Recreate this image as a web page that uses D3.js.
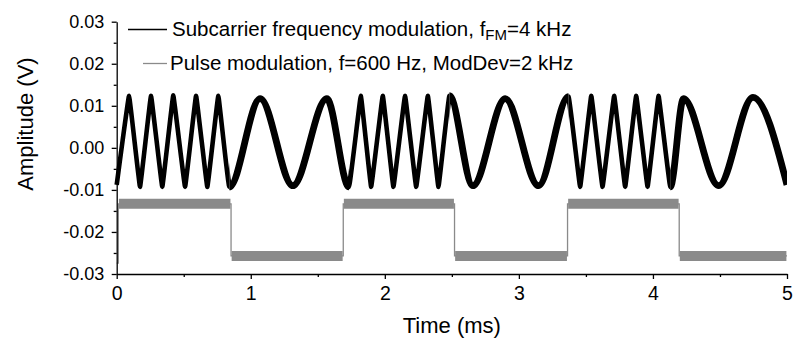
<!DOCTYPE html>
<html>
<head>
<meta charset="utf-8">
<script src="https://cdn.jsdelivr.net/npm/d3@7"></script>
<style>
  body { margin: 0; background: #fff; }
  text { font-family: "Liberation Sans", Arial, sans-serif; fill: #000; }
  .axis path, .axis line { stroke: #000; stroke-width: 1.3; }
  .axis text { font-family: "Liberation Sans", Arial, sans-serif; fill: #000; }
</style>
</head>
<body>
<svg id="chart"></svg>
<script>
// extrema of the FM subcarrier trace (time in ms, amplitude in V)
const fmTime = [0, 0.092, 0.174, 0.256, 0.340, 0.422, 0.510, 0.592, 0.676, 0.758, 0.840,
  1.070, 1.314, 1.567, 1.733,
  1.821, 1.898, 1.985, 2.064, 2.151, 2.234, 2.321, 2.400, 2.482,
  2.657, 2.898, 3.146, 3.370,
  3.457, 3.540, 3.624, 3.711, 3.793, 3.875, 3.960, 4.042, 4.129,
  4.228, 4.490, 4.746, 5.0];
const fmAmp = [-0.0088, 0.0124, -0.0093, 0.0124, -0.0093, 0.0125, -0.0093, 0.0124, -0.0093, 0.0124, -0.0093,
  0.0117, -0.0090, 0.0117, -0.0093,
  0.0124, -0.0093, 0.0124, -0.0093, 0.0124, -0.0093, 0.0124, -0.0093, 0.0124,
  -0.0090, 0.0117, -0.0090, 0.0122,
  -0.0093, 0.0124, -0.0093, 0.0124, -0.0093, 0.0124, -0.0093, 0.0124, -0.0093,
  0.0117, -0.0090, 0.0120, -0.0088];
// stretches where the carrier is at 2 kHz (rounder, heavier trace)
const slowSpans = [[0.840, 1.733], [2.482, 3.370], [4.129, 5.0]];

// pulse modulation square wave
const pulseTime  = [0, 0.012, 0.853, 1.690, 2.520, 3.363, 4.196, 5.0];
const pulseLevel = [-0.0274, -0.0133, -0.0257, -0.0133, -0.0257, -0.0133, -0.0257, -0.0257];

const xTicks = [0, 1, 2, 3, 4, 5];
const xMinor = [0.5, 1.5, 2.5, 3.5, 4.5];
const yTicks = [-0.03, -0.02, -0.01, 0, 0.01, 0.02, 0.03];
const yMinor = [-0.025, -0.015, -0.005, 0.005, 0.015, 0.025];

const legendItems = ['Subcarrier frequency modulation, f', 'Pulse modulation, f=600 Hz, ModDev=2 kHz'];

const W = 797, H = 338;
const svg = d3.select('#chart').attr('width', W).attr('height', H);

const x = d3.scaleLinear().domain([0, 5]).range([116.7, 787]);
const y = d3.scaleLinear().domain([-0.03, 0.03]).range([274, 21.7]);

const fm = fmTime.map((t, i) => ({ t, v: fmAmp[i] }));
const pulse = pulseTime.map((t, i) => ({ t, v: pulseLevel[i] }));

// pulse trace: thin step line + noisy band on the flat parts
svg.append('path').datum(pulse)
  .attr('d', d3.line().x((d) => x(d.t)).y((d) => y(d.v)).curve(d3.curveStepAfter))
  .attr('fill', 'none').attr('stroke', '#8a8a8a').attr('stroke-width', 1.3);
pulse.slice(1, -1).forEach((d, i) => {
  const next = pulse[i + 2];
  svg.append('line')
    .attr('x1', x(d.t) + 0.6).attr('x2', x(next.t) - 0.6)
    .attr('y1', y(d.v)).attr('y2', y(d.v))
    .attr('stroke', '#8a8a8a').attr('stroke-width', 10);
});

// clip regions for the fast (6 kHz) and slow (2 kHz) parts
const fastSpans = [];
let prev = 0;
slowSpans.forEach((s) => { if (s[0] > prev) fastSpans.push([prev, s[0]]); prev = s[1]; });
if (prev < 5) fastSpans.push([prev, 5]);

const defs = svg.append('defs');
[['slow', slowSpans], ['fast', fastSpans]].forEach(([id, spans]) => {
  const cp = defs.append('clipPath').attr('id', id);
  spans.forEach((s) => cp.append('rect')
    .attr('x', x(s[0]) - (s[0] === 0 ? 5 : 0)).attr('width', x(s[1]) - x(s[0]) + (s[0] === 0 ? 5 : 0))
    .attr('y', 0).attr('height', H));
});

// FM trace
const fastLine = d3.line().x((d) => x(d.t)).y((d) => y(d.v)).curve(d3.curveCardinal.tension(0.85));
const slowLine = d3.line().x((d) => x(d.t)).y((d) => y(d.v)).curve(d3.curveMonotoneX);
svg.append('path').datum(fm).attr('d', fastLine)
  .attr('clip-path', 'url(#fast)')
  .attr('fill', 'none').attr('stroke', '#000').attr('stroke-width', 4.6)
  .attr('stroke-linejoin', 'round');
svg.append('path').datum(fm).attr('d', slowLine)
  .attr('clip-path', 'url(#slow)')
  .attr('fill', 'none').attr('stroke', '#000').attr('stroke-width', 6.8)
  .attr('stroke-linejoin', 'round');

// axes
const fmt = (d) => d.toFixed(2).replace('-0.00', '0.00');
const gx = svg.append('g').attr('class', 'axis').attr('transform', `translate(0,${y(-0.03)})`)
  .call(d3.axisBottom(x).tickValues(xTicks).tickSize(5).tickSizeOuter(0).tickFormat(d3.format('d')));
gx.selectAll('text').attr('y', 25.5).attr('dy', 0).style('font-size', '19.5px');
svg.append('g').attr('class', 'axis').attr('transform', `translate(0,${y(-0.03)})`)
  .call(d3.axisBottom(x).tickValues(xMinor).tickSize(3).tickFormat(''))
  .call((g) => g.select('.domain').remove());

const gy = svg.append('g').attr('class', 'axis').attr('transform', `translate(${x(0)},0)`)
  .call(d3.axisLeft(y).tickValues(yTicks).tickSize(5).tickSizeOuter(0).tickFormat(fmt));
gy.selectAll('text').attr('x', -12.5).attr('dy', '0.3em').style('font-size', '18px');
svg.append('g').attr('class', 'axis').attr('transform', `translate(${x(0)},0)`)
  .call(d3.axisLeft(y).tickValues(yMinor).tickSize(3).tickFormat(''))
  .call((g) => g.select('.domain').remove());

svg.append('text').attr('x', (x(0) + x(5)) / 2).attr('y', 333)
  .attr('text-anchor', 'middle').style('font-size', '22px').text('Time (ms)');
svg.append('text').attr('transform', 'translate(33,124) rotate(-90)')
  .attr('text-anchor', 'middle').style('font-size', '22px').text('Amplitude (V)');

// legend
svg.append('line').attr('x1', 128).attr('x2', 167).attr('y1', 29.5).attr('y2', 29.5)
  .attr('stroke', '#000').attr('stroke-width', 1.6);
svg.append('line').attr('x1', 143).attr('x2', 167).attr('y1', 63.5).attr('y2', 63.5)
  .attr('stroke', '#8a8a8a').attr('stroke-width', 1.3);
const l1 = svg.append('text').attr('x', 172).attr('y', 36).style('font-size', '20.5px');
l1.append('tspan').text(legendItems[0]);
l1.append('tspan').attr('dy', 4).style('font-size', '15px').text('FM');
l1.append('tspan').attr('dy', -4).text('=4 kHz');
svg.append('text').attr('x', 170).attr('y', 70).style('font-size', '20.5px').text(legendItems[1]);
</script>
</body>
</html>
